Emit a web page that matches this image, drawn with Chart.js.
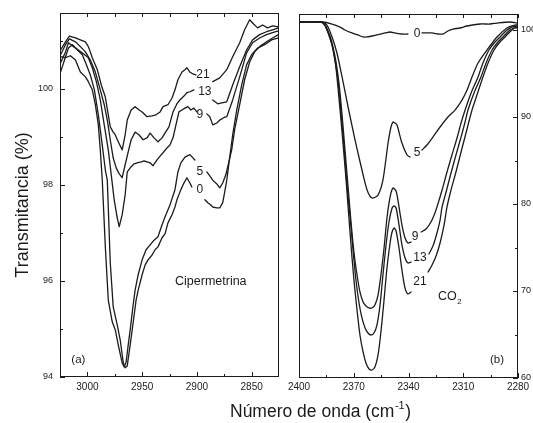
<!DOCTYPE html>
<html>
<head>
<meta charset="utf-8">
<script src="https://cdn.jsdelivr.net/npm/chart.js@4.4.1/dist/chart.umd.min.js"></script>
<style>
  html, body { margin: 0; padding: 0; background: #fff; }
  #wrap { position: relative; width: 533px; height: 423px; overflow: hidden; background: #fff; }
  canvas { position: absolute; left: 0; top: 0; }
</style>
</head>
<body>
<div id="wrap">
  <canvas id="panelA" width="533" height="423"></canvas>
  <canvas id="panelB" width="533" height="423"></canvas>
</div>
<script>
// ---------- (a) Cipermetrina: transmittance vs wavenumber, one series per exposure ----------
const cipWn21 = [3024.5,3020.0,3016.4,3010.9,3006.4,3001.8,2999.1,2995.5,2990.9,2987.3,2983.6,2980.9,2979.1,2976.4,2974.5,2971.8,2968.2,2965.5,2963.6,2960.0,2956.4,2952.7,2950.0,2945.5,2940.9,2937.3,2933.6,2930.9,2926.4,2922.7,2920.0,2917.3,2913.6,2910.9,2909.1,2906.4,2903.6,2900.9,2894,2885.5,2879.1,2872.7,2867.3,2860.9,2856.4,2851.8,2848.2,2844.5,2840.0,2835.5,2830.9,2825.5];
const cipT21  = [100.81,100.98,101.10,101.06,101.02,100.98,100.88,100.65,100.40,100.08,99.83,99.46,99.21,99.10,99.04,98.90,98.73,99.04,99.35,99.56,99.63,99.56,99.52,99.42,99.44,99.46,99.52,99.63,99.67,99.81,99.98,100.19,100.35,100.40,100.44,100.35,100.31,100.29,null,100.15,100.23,100.40,100.67,100.96,101.23,101.44,101.35,101.27,101.33,101.27,101.31,101.29];

const cipWn13 = [3024.5,3020.0,3016.4,3010.9,3006.4,3001.8,2997.3,2992.7,2988.2,2984.6,2981.8,2979.1,2976.4,2973.6,2970.9,2968.2,2965.5,2962.7,2960.0,2956.4,2952.7,2949.1,2945.5,2942.7,2939.1,2935.5,2931.8,2929.1,2925.5,2921.8,2918.2,2915.5,2911.8,2909.1,2906.4,2902.7,2894,2885.5,2880.9,2877.3,2872.7,2867.3,2860.9,2854.6,2849.1,2842.7,2836.4,2830.9,2825.5];
const cipT13  = [100.71,100.92,101.04,100.98,100.88,100.77,100.60,100.35,99.98,99.67,99.35,98.94,98.56,98.35,98.23,98.15,98.42,98.69,98.94,99.10,99.04,98.94,98.98,99.08,98.98,98.90,98.98,99.08,99.21,99.52,99.69,99.77,99.85,99.92,99.94,99.98,null,99.77,99.69,99.71,99.73,100.08,100.46,100.81,101.02,101.13,101.19,101.23,101.27];

const cipWn9 = [3024.5,3020.0,3017.3,3012.7,3008.2,3003.6,2999.1,2995.5,2991.8,2988.2,2984.6,2980.9,2978.2,2975.5,2972.7,2970.9,2968.2,2965.5,2963.6,2960.0,2957.3,2954.6,2950.9,2948.2,2945.5,2942.7,2940.0,2936.4,2933.6,2930.9,2927.3,2924.6,2921.8,2919.1,2916.4,2913.6,2910.9,2908.2,2905.5,2902.7,2900.0,2895,2890.9,2888.2,2885.5,2881.8,2879.1,2875.5,2872.7,2867.3,2860.9,2854.6,2849.1,2842.7,2836.4,2830.9,2825.5];
const cipT9  = [100.54,100.77,100.96,100.88,100.81,100.73,100.65,100.44,100.15,99.77,99.25,98.73,98.21,97.69,97.31,97.13,97.38,97.79,98.27,98.38,98.44,98.46,98.48,98.50,98.48,98.46,98.40,98.52,98.60,98.67,98.77,98.83,98.98,99.25,99.52,99.56,99.60,99.63,99.56,99.60,99.52,null,99.48,99.42,99.25,99.29,99.35,99.40,99.42,99.77,100.25,100.75,100.96,101.06,101.13,101.17,101.21];

const cipWn5 = [3024.5,3020.0,3015.5,3010.9,3006.4,3001.8,2999.1,2995.5,2992.7,2990.0,2988.2,2986.4,2983.6,2980.9,2977.3,2974.5,2971.8,2968.2,2966.4,2964.6,2962.7,2960.9,2958.2,2956.4,2953.6,2950.0,2946.4,2942.7,2939.1,2935.5,2931.8,2929.1,2924.6,2920.0,2917.3,2914.6,2910.9,2906.4,2901.8,2896,2890.9,2888.2,2885.5,2881.8,2879.1,2876.4,2873.6,2871.8,2868.2,2865.5,2860.9,2856.4,2851.8,2847.3,2842.7,2836.4,2830.9,2825.5];
const cipT5  = [100.67,100.65,100.69,100.60,100.35,100.25,100.15,99.98,99.67,99.25,98.73,98.10,96.71,95.60,95.15,94.98,94.67,94.29,94.21,94.31,94.67,94.98,95.50,95.81,96.13,96.44,96.65,96.75,96.85,96.92,97.17,97.33,97.58,97.90,98.27,98.46,98.58,98.63,98.52,null,98.27,98.19,98.10,98.02,97.94,98.04,98.21,98.38,98.73,99.15,99.67,100.19,100.56,100.77,100.88,100.98,101.06,101.13];

const cipWn0 = [3024.5,3020.9,3017.3,3013.6,3009.1,3004.6,3000.9,2997.3,2993.6,2990.0,2986.4,2983.6,2981.8,2979.1,2976.4,2972.7,2970.0,2967.3,2965.5,2963.6,2960.9,2958.2,2955.5,2953.6,2950.0,2947.3,2944.6,2940.9,2938.2,2935.5,2931.8,2929.1,2926.4,2922.7,2920.0,2918.2,2915.5,2912.7,2909.1,2906.4,2904.6,2898,2892.7,2890.0,2887.3,2885.5,2881.8,2879.1,2876.4,2874.6,2872.7,2870.0,2867.3,2863.6,2859.1,2854.6,2850.0,2844.5,2838.2,2831.8,2825.5];
const cipT0  = [100.35,100.60,100.85,100.92,100.81,100.71,100.50,100.29,99.98,99.46,98.83,98.31,98.10,96.38,95.46,95.08,94.77,94.31,94.19,94.23,94.67,95.13,95.60,95.81,96.13,96.33,96.44,96.54,96.65,96.71,96.90,96.98,97.21,97.38,97.54,97.69,97.85,98.00,98.15,98.04,97.96,null,97.69,97.63,97.58,97.54,97.52,97.52,97.63,97.85,98.10,98.58,99.04,99.56,100.08,100.50,100.71,100.85,100.92,101.02,101.06];

// tick values of panel (a)
const cipXTicks = [3000, 2950, 2900, 2850];
const cipXMinor = [2975, 2925, 2875];
const cipYTicks = [94, 96, 98, 100];
const cipYMinor = [95, 97, 99, 101];

// curve tags of panel (a): text and anchor (wavenumber, transmittance)
const cipTagText = ['21', '13', '9', '5', '0'];
const cipTagWn   = [2894.5, 2892.7, 2897.3, 2897.3, 2897.3];
const cipTagT    = [100.29, 99.94, 99.46, 98.27, 97.90];

// ---------- (b) CO2 band ----------
const co2Wn0 = [2399.5,2387.4,2381.9,2377.5,2374.8,2371.0,2367.7,2365.0,2362.7,2360.0,2357.3,2352.9,2350.1,2347.4,2343.6,2340.3,2337,2332.6,2327.1,2323.8,2321.1,2318.4,2315.6,2311.8,2308.0,2300.8,2295.3,2291.5,2284.4,2280.5];
const co2T0  = [100.92,100.92,100.69,100.34,100.0,99.66,99.43,99.2,99.2,99.31,99.43,99.66,99.77,99.66,99.54,99.54,null,99.66,99.66,99.54,99.54,99.89,100.11,100.23,100.46,100.69,100.69,100.80,100.92,100.80];

const co2Wn5 = [2399.5,2387.4,2384.7,2381.9,2379.2,2376.4,2373.1,2369.3,2365.5,2362.7,2360.0,2356.7,2354.0,2351.2,2349.6,2348.5,2347.4,2346.3,2343.6,2340.8,2339.2,2335,2332.6,2329.9,2326.6,2322.7,2318.4,2314.5,2310.7,2307.9,2305.2,2301.9,2297.0,2291.5,2286.0,2281.6,2280.5];
const co2T5  = [100.92,100.92,100.57,99.2,97.36,94.6,91.15,87.36,83.91,81.61,80.69,81.03,82.76,87.01,88.85,89.43,89.31,89.08,87.01,85.63,85.4,null,86.21,86.78,87.7,88.85,90.0,90.8,91.95,93.1,94.6,96.21,97.7,99.2,100.23,100.57,100.57];

const co2Wn9 = [2399.5,2387.9,2385.8,2383.0,2381.4,2379.7,2378.1,2376.4,2374.8,2373.1,2371.5,2369.9,2368.2,2366.6,2364.9,2363.3,2361.6,2360.0,2358.4,2356.7,2355.1,2353.4,2351.8,2350.1,2348.5,2346.8,2345.2,2343.6,2341.9,2340.3,2338.6,2336,2333.1,2330.4,2327.7,2325.5,2324.4,2321.6,2318.9,2316.2,2313.4,2311.2,2309.0,2305.7,2301.9,2299.2,2295.9,2292.6,2289.3,2286.0,2283.3,2280.5];
const co2T9  = [100.92,100.92,100.57,99.31,98.05,96.32,93.91,90.23,86.21,81.95,77.93,74.48,71.84,69.89,68.74,68.28,68.05,68.05,68.39,69.54,71.84,74.94,78.39,80.8,81.84,81.49,79.66,77.59,76.09,75.52,75.63,null,76.78,77.13,77.93,78.97,79.66,81.61,83.68,85.63,87.59,89.31,90.8,92.76,94.6,96.21,97.7,98.62,99.31,100.0,100.34,100.46];

const co2Wn13 = [2399.5,2387.9,2385.8,2383.6,2381.9,2380.3,2378.6,2377.0,2375.3,2373.7,2372.1,2370.4,2368.8,2367.1,2365.5,2363.8,2362.2,2360.5,2358.9,2357.3,2355.6,2354.0,2352.3,2350.7,2349.0,2347.9,2346.8,2345.2,2343.6,2341.9,2340.3,2338.6,2333,2328.8,2326.6,2324.4,2322.7,2321.6,2319.4,2316.7,2314.0,2311.2,2309.0,2307.4,2304.1,2300.3,2297.5,2294.2,2291.0,2287.7,2284.4,2282.2,2280.5];
const co2T13  = [100.92,100.92,100.57,99.43,98.28,96.55,94.25,90.57,86.55,82.18,78.74,74.71,71.26,68.62,66.9,65.75,65.17,64.94,65.17,66.09,68.39,71.84,75.29,77.93,79.54,79.77,79.54,77.59,75.29,73.79,73.22,73.33,null,74.25,75.17,76.67,78.16,79.66,81.38,83.56,85.63,87.7,89.43,90.8,92.76,94.6,96.21,97.7,98.62,99.31,100.0,100.23,100.34];

const co2Wn21 = [2399.5,2387.9,2385.8,2383.6,2381.9,2380.3,2379.2,2377.5,2375.9,2374.2,2373.1,2371.5,2369.9,2368.2,2366.6,2364.9,2363.3,2361.6,2360.0,2358.4,2356.7,2355.1,2353.4,2351.8,2350.1,2349.0,2347.9,2346.8,2345.2,2343.6,2341.9,2340.3,2338.6,2333,2329.3,2327.1,2324.9,2322.7,2320.5,2318.9,2316.7,2314.0,2311.2,2308.5,2305.2,2302.5,2299.2,2296.4,2293.1,2289.9,2286.6,2283.3,2281.6,2280.5];
const co2T21  = [100.92,100.92,100.57,99.43,98.28,96.55,94.6,90.8,87.01,82.76,79.66,75.29,71.26,67.82,64.94,62.99,61.72,61.03,60.92,61.26,62.64,65.29,68.97,72.64,75.52,76.78,77.24,76.9,74.94,72.41,70.34,69.66,69.89,null,72.18,72.99,74.02,75.52,77.59,79.66,81.61,83.68,85.98,88.16,90.8,92.53,94.6,96.21,97.7,98.62,99.31,100.0,100.23,100.23];

// tick values of panel (b)
const co2XTicks = [2400, 2370, 2340, 2310, 2280];
const co2XMinor = [2385, 2355, 2325, 2295];
const co2YTicks = [60, 70, 80, 90, 100];
const co2YMinor = [65, 75, 85, 95];

// curve tags of panel (b)
const co2TagText = ['0', '5', '9', '13', '21'];
const co2TagWn   = [2335.3, 2335.3, 2336.4, 2333.7, 2333.7];
const co2TagT    = [99.54, 85.86, 76.21, 73.79, 71.03];

// ---------- drawing ----------
const INK = '#1b1b1b';
const FONT = "'Liberation Sans', Arial, Helvetica, sans-serif";

const pts = (xs, ys) => xs.map((x, i) => ({ x, y: ys[i] }));
const lineSet = (xs, ys, tension) => ({
  data: pts(xs, ys),
  borderColor: INK,
  borderWidth: 1.3,
  pointRadius: 0,
  fill: false,
  spanGaps: false,
  tension,
  borderJoinStyle: 'round',
  borderCapStyle: 'round'
});

// frame, inward tick marks and in-plot text
const panelDecor = {
  id: 'panelDecor',
  afterDraw(chart, _args, o) {
    const { ctx, chartArea: a, scales } = chart;
    const sx = scales.x, sy = scales.y;
    ctx.save();
    ctx.strokeStyle = INK;
    ctx.lineWidth = 1;
    ctx.strokeRect(a.left + 0.5, a.top + 0.5, a.right - a.left - 1, a.bottom - a.top - 1);

    ctx.beginPath();
    const xp = v => Math.round(sx.getPixelForValue(v)) + 0.5;
    const yp = v => Math.round(sy.getPixelForValue(v)) + 0.5;
    o.xMajor.forEach(v => {
      const p = xp(v);
      ctx.moveTo(p, a.bottom); ctx.lineTo(p, a.bottom - 5);
      ctx.moveTo(p, a.top); ctx.lineTo(p, a.top + 4);
    });
    o.xMinor.forEach(v => {
      const p = xp(v);
      ctx.moveTo(p, a.bottom); ctx.lineTo(p, a.bottom - 3);
      ctx.moveTo(p, a.top); ctx.lineTo(p, a.top + 4);
    });
    const edge = o.ySide === 'left' ? a.left : a.right;
    const dir = o.ySide === 'left' ? 1 : -1;
    o.yMajor.forEach(v => { const p = yp(v); ctx.moveTo(edge, p); ctx.lineTo(edge + dir * 5, p); });
    o.yMinor.forEach(v => { const p = yp(v); ctx.moveTo(edge, p); ctx.lineTo(edge + dir * 3, p); });
    ctx.stroke();

    ctx.fillStyle = INK;
    ctx.textBaseline = 'middle';
    ctx.textAlign = 'center';
    ctx.font = '12px ' + FONT;
    o.tagText.forEach((t, i) => {
      ctx.fillText(t, sx.getPixelForValue(o.tagWn[i]), sy.getPixelForValue(o.tagT[i]));
    });
    o.notes.forEach(n => {
      ctx.font = n.size + 'px ' + FONT;
      ctx.textAlign = n.sub ? 'left' : 'center';
      const px = sx.getPixelForValue(n.x), py = sy.getPixelForValue(n.y);
      ctx.fillText(n.text, px, py);
      if (n.sub) {
        const w = ctx.measureText(n.text).width;
        ctx.font = (n.size * 0.62) + 'px ' + FONT;
        ctx.fillText(n.sub, px + w + 0.5, py + 5);
      }
    });

    if (o.titles) {
      ctx.font = '17.5px ' + FONT;
      ctx.textAlign = 'left';
      ctx.textBaseline = 'alphabetic';
      const main = 'Número de onda (cm';
      const x0 = 230, base = 417;
      ctx.fillText(main, x0, base);
      let x = x0 + ctx.measureText(main).width;
      ctx.font = '11px ' + FONT;
      ctx.fillText('-1', x + 0.5, base - 8);
      x += ctx.measureText('-1').width + 1;
      ctx.font = '17.5px ' + FONT;
      ctx.fillText(')', x, base);

      ctx.save();
      ctx.translate(28, 205);
      ctx.rotate(-Math.PI / 2);
      ctx.font = '18px ' + FONT;
      ctx.textAlign = 'center';
      ctx.fillText('Transmitancia (%)', 0, 0);
      ctx.restore();
    }
    ctx.restore();
  }
};

const tickSetter = values => scale => { scale.ticks = values.map(v => ({ value: v })); };

function axis(opts) {
  return Object.assign({
    type: 'linear',
    grid: { display: false, drawTicks: false },
    border: { display: false }
  }, opts);
}

Chart.defaults.animation = false;

new Chart(document.getElementById('panelA'), {
  type: 'line',
  data: {
    datasets: [
      lineSet(cipWn21, cipT21, 0),
      lineSet(cipWn13, cipT13, 0),
      lineSet(cipWn9, cipT9, 0),
      lineSet(cipWn5, cipT5, 0),
      lineSet(cipWn0, cipT0, 0)
    ]
  },
  options: {
    responsive: false,
    devicePixelRatio: 1,
    animation: false,
    layout: { padding: { left: 0, top: 13, right: 254, bottom: 0 } },
    plugins: {
      legend: { display: false },
      tooltip: { enabled: false },
      panelDecor: {
        xMajor: cipXTicks, xMinor: cipXMinor,
        yMajor: cipYTicks, yMinor: cipYMinor, ySide: 'left',
        tagText: cipTagText, tagWn: cipTagWn, tagT: cipTagT,
        notes: [
          { text: 'Cipermetrina', x: 2887.3, y: 95.98, size: 12.5 },
          { text: '(a)', x: 3008.2, y: 94.35, size: 11.5 }
        ],
        titles: false
      }
    },
    scales: {
      x: axis({
        reverse: true, min: 2825, max: 3025,
        afterBuildTicks: tickSetter(cipXTicks),
        afterFit: s => { s.height = 46; },
        ticks: { color: INK, autoSkip: false, maxRotation: 0, padding: 4, font: { family: FONT, size: 10 }, callback: v => String(v) }
      }),
      y: axis({
        min: 94, max: 101.58,
        afterBuildTicks: tickSetter(cipYTicks),
        afterFit: s => { s.width = 60; },
        ticks: { color: INK, autoSkip: false, padding: 7, font: { family: FONT, size: 9 }, callback: v => String(v) }
      })
    }
  },
  plugins: [panelDecor]
});

new Chart(document.getElementById('panelB'), {
  type: 'line',
  data: {
    datasets: [
      lineSet(co2Wn0, co2T0, 0.25),
      lineSet(co2Wn5, co2T5, 0.25),
      lineSet(co2Wn9, co2T9, 0.25),
      lineSet(co2Wn13, co2T13, 0.25),
      lineSet(co2Wn21, co2T21, 0.25)
    ]
  },
  options: {
    responsive: false,
    devicePixelRatio: 1,
    animation: false,
    layout: { padding: { left: 299, top: 14, right: 0, bottom: 0 } },
    plugins: {
      legend: { display: false },
      tooltip: { enabled: false },
      panelDecor: {
        xMajor: co2XTicks, xMinor: co2XMinor,
        yMajor: co2YTicks, yMinor: co2YMinor, ySide: 'right',
        tagText: co2TagText, tagWn: co2TagWn, tagT: co2TagT,
        notes: [
          { text: 'CO', sub: '2', x: 2323.8, y: 69.31, size: 12.5 },
          { text: '(b)', x: 2291.5, y: 62.07, size: 11.5 }
        ],
        titles: true
      }
    },
    scales: {
      x: axis({
        reverse: true, min: 2280, max: 2400,
        afterBuildTicks: tickSetter(co2XTicks),
        afterFit: s => { s.height = 45; },
        ticks: { color: INK, autoSkip: false, maxRotation: 0, padding: 3, font: { family: FONT, size: 10 }, callback: v => String(v) }
      }),
      y: axis({
        position: 'right',
        min: 60, max: 101.84,
        afterBuildTicks: tickSetter(co2YTicks),
        afterFit: s => { s.width = 15; },
        ticks: { color: INK, autoSkip: false, padding: 3, font: { family: FONT, size: 9 }, callback: v => String(v) }
      })
    }
  },
  plugins: [panelDecor]
});
</script>
</body>
</html>
